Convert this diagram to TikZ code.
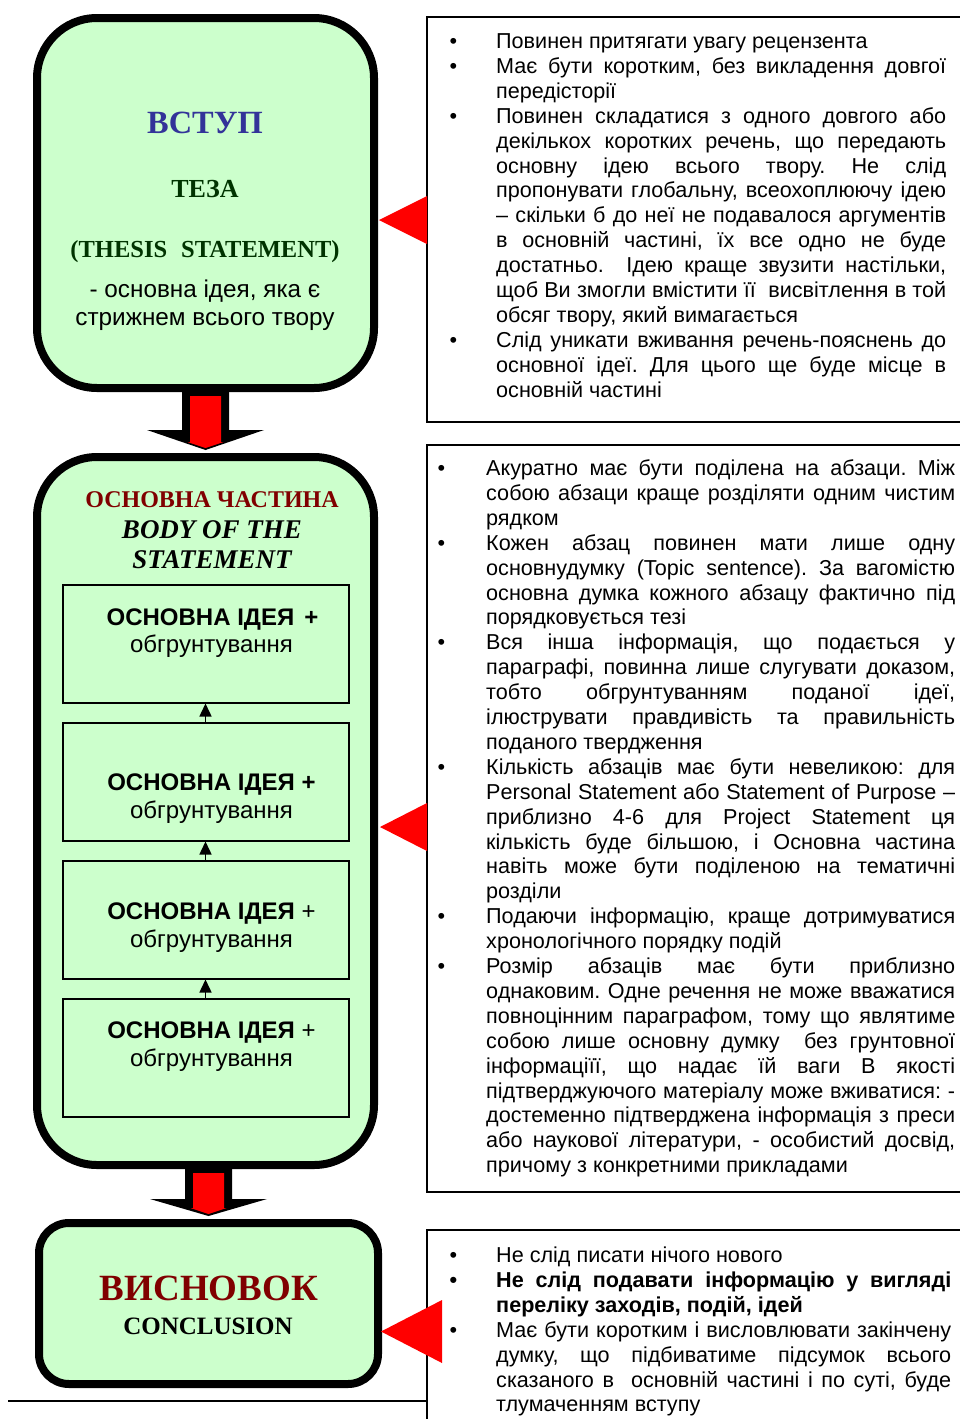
\documentclass[tikz,border=0pt]{standalone}
\usepackage{fontspec}
\setmainfont{Liberation Serif}
\setsansfont{Liberation Sans}
\usetikzlibrary{arrows.meta,calc}
\definecolor{boxgreen}{HTML}{CCFFCC}
\definecolor{introblue}{HTML}{333399}
\definecolor{tezagreen}{HTML}{003300}
\definecolor{darkred}{HTML}{800000}
\newlength\bulsep
\newcommand\jl[1]{\leavevmode\makebox[\linewidth][s]{#1}\\}
\newcommand\bul{\leavevmode\llap{\textbullet\hspace{\bulsep}}}
\newcommand\rtext{\fontsize{21.6}{24.9}\selectfont\sffamily\frenchspacing}
\newcommand\idfont{\fontsize{24}{27}\selectfont\sffamily}
\newcommand\blockarrow[3]{%
  \fill[black] ($(#1)+(-23.5,0)$) -- ($(#2)+(-23.5,-3-#3)$) -- ($(#2)+(-58.5,-3-#3)$)
    -- ($(#2)+(0,-3)$) -- ($(#2)+(58.5,-3-#3)$) -- ($(#2)+(23.5,-3-#3)$)
    -- ($(#1)+(23.5,0)$) -- cycle;
  \fill[red] ($(#1)+(-15.5,4)$) -- ($(#2)+(-15.5,-11)$) -- ($(#2)+(-18,-11)$)
    -- ($(#2)+(0,-5)$) -- ($(#2)+(18,-11)$) -- ($(#2)+(15.5,-11)$)
    -- ($(#1)+(15.5,4)$) -- cycle;}
\tikzset{
  bigbox/.style={draw=black, line width=8pt, fill=boxgreen, inner sep=0pt},
  ideabox/.style={draw=black, line width=2pt, fill=boxgreen, inner sep=0pt,
    minimum width=286pt, minimum height=118pt},
  notebox/.style={draw=black, line width=1.6pt, inner sep=0pt},
  lbl/.style={inner sep=0pt, anchor=base},
  upar/.style={line width=1.5pt, -{Triangle[width=12pt,length=13pt]}},
  pointer/.style={fill=red}
}
\begin{document}
\begin{tikzpicture}[x=1pt,y=-1pt]
\useasboundingbox (0,0) rectangle (960,1419);
\clip (0,0) rectangle (960,1419);
\fill[white] (0,0) rectangle (960,1419);

% ---------- left column boxes ----------
\node[bigbox, rounded corners=60pt, minimum width=337pt, minimum height=370pt] (intro) at (205.5,203) {};
\node[bigbox, rounded corners=60pt, minimum width=337pt, minimum height=708pt] (body) at (205.5,811) {};
\node[bigbox, rounded corners=30pt, minimum width=339pt, minimum height=161pt] (concl) at (208.5,1303.5) {};

% intro texts
\node[lbl, text=introblue, font=\fontsize{32.4}{36}\selectfont\bfseries] (tvstup) at (205,133) {ВСТУП};
\node[lbl, text=tezagreen, font=\fontsize{26}{30}\selectfont\bfseries] (tteza) at (205,197) {ТЕЗА};
\node[lbl, text=tezagreen, font=\fontsize{24.5}{28}\selectfont\bfseries] (tthesis) at (205,257) {(THESIS\hspace{14pt}STATEMENT)};
\node[lbl, font=\fontsize{24.3}{29}\selectfont\sffamily] (tidea1) at (205,297) {- основна ідея, яка є};
\node[lbl, font=\fontsize{24.3}{29}\selectfont\sffamily] (tidea2) at (205,325) {стрижнем всього твору};

% body texts
\node[lbl, text=darkred, font=\fontsize{24}{29}\selectfont\bfseries] (tbody1) at (212,507) {ОСНОВНА ЧАСТИНА};
\node[lbl, font=\fontsize{27}{30}\selectfont\bfseries\itshape] (tbody2) at (212,538) {BODY OF THE};
\node[lbl, font=\fontsize{27}{30}\selectfont\bfseries\itshape] (tbody3) at (212,568) {STATEMENT};

% idea boxes
\node[ideabox] (r1) at (205.5,643.5) {};
\node[ideabox] (r2) at (205.5,781.5) {};
\node[ideabox] (r3) at (205.5,919.5) {};
\node[ideabox] (r4) at (205.5,1057.5) {};
\draw[upar] (r2.north) -- (r1.south);
\draw[upar] (r3.north) -- (r2.south);
\draw[upar] (r4.north) -- (r3.south);

\node[lbl, font=\idfont\bfseries] (i1a) at (212.5,625) {ОСНОВНА ІДЕЯ\hspace{10pt}+};
\node[lbl, font=\idfont] (i1b) at (211.5,652) {обгрунтування};
\node[lbl, font=\idfont\bfseries] (i2a) at (211.5,790) {ОСНОВНА ІДЕЯ +};
\node[lbl, font=\idfont] (i2b) at (211.5,818) {обгрунтування};
\node[lbl, font=\idfont] (i3a) at (211.5,919) {{\bfseries ОСНОВНА ІДЕЯ} +};
\node[lbl, font=\idfont] (i3b) at (211.5,947) {обгрунтування};
\node[lbl, font=\idfont] (i4a) at (211.5,1038) {{\bfseries ОСНОВНА ІДЕЯ} +};
\node[lbl, font=\idfont] (i4b) at (211.5,1066) {обгрунтування};

% conclusion texts
\node[lbl, text=darkred, font=\fontsize{37}{42}\selectfont\bfseries] (tconcl1) at (209,1300) {ВИСНОВОК};
\node[lbl, font=\fontsize{25}{30}\selectfont\bfseries] (tconcl2) at (208,1334) {CONCLUSION};

% block arrows
\blockarrow{intro.south -| body.north}{body.north}{20}
\blockarrow{body.south -| concl.north}{concl.north}{17}

% ---------- right column note boxes ----------
\node[notebox, minimum width=548pt, minimum height=405pt] (n1) at (701,219.5) {};
\node[notebox, minimum width=548pt, minimum height=747pt] (n2) at (701,818.5) {};
\node[notebox, minimum width=548pt, minimum height=240pt] (n3) at (701,1350) {};

\node[anchor=base west, inner sep=0pt, font=\rtext] (txt1) at (496,48.5) {\parbox[t]{450pt}{\setlength\bulsep{39pt}%
\bul Повинен притягати увагу рецензента\\
\jl{\bul Має бути коротким, без викладення довгої}
передісторії\\
\jl{\bul Повинен складатися з одного довгого або}
\jl{декількох коротких речень, що передають}
\jl{основну ідею всього твору. Не слід}
\jl{пропонувати глобальну, всеохоплюючу ідею}
\jl{– скільки б до неї не подавалося аргументів}
\jl{в основній частині, їх все одно не буде}
\jl{достатньо.\ \ Ідею краще звузити настільки,}
\jl{щоб Ви змогли вмістити її\ \ висвітлення в той}
обсяг твору, який вимагається\\
\jl{\bul Слід уникати вживання речень-пояснень до}
\jl{основної ідеї. Для цього ще буде місце в}
основній частині}};

\node[anchor=base west, inner sep=0pt, font=\rtext] (txt2) at (486,475.5) {\parbox[t]{469pt}{\setlength\bulsep{41pt}%
\jl{\bul Акуратно має бути поділена на абзаци. Між}
\jl{собою абзаци краще розділяти одним чистим}
рядком\\
\jl{\bul Кожен абзац повинен мати лише одну}
\jl{основнудумку (Topic sentence). За вагомістю}
\jl{основна думка кожного абзацу фактично під}
порядковується тезі\\
\jl{\bul Вся інша інформація, що подається у}
\jl{параграфі, повинна лише слугувати доказом,}
\jl{тобто обгрунтуванням поданої ідеї,}
\jl{ілюструвати правдивість та правильність}
поданого твердження\\
\jl{\bul Кількість абзаців має бути невеликою: для}
\jl{Personal Statement або Statement of Purpose –}
\jl{приблизно 4-6 для Project Statement ця}
\jl{кількість буде більшою, і Основна частина}
\jl{навіть може бути поділеною на тематичні}
розділи\\
\jl{\bul Подаючи інформацію, краще дотримуватися}
хронологічного порядку подій\\
\jl{\bul Розмір абзаців має бути приблизно}
\jl{однаковим. Одне речення не може вважатися}
\jl{повноцінним параграфом, тому що являтиме}
\jl{собою лише основну думку\ \ без грунтовної}
\jl{інформаціїї, що надає їй ваги В якості}
\jl{підтверджуючого матеріалу може вживатися: -}
\jl{достеменно підтверджена інформація з преси}
\jl{або наукової літератури, - особистий досвід,}
причому з конкретними прикладами}};

\node[anchor=base west, inner sep=0pt, font=\rtext] (txt3) at (496,1262.5) {\parbox[t]{455pt}{\setlength\bulsep{39pt}%
\bul Не слід писати нічого нового\\
\jl{\bfseries\bul Не слід подавати інформацію у вигляді}
{\bfseries переліку заходів, подій, ідей}\\
\jl{\bul Має бути коротким і висловлювати закінчену}
\jl{думку, що підбиватиме підсумок всього}
\jl{сказаного в\ \ основній частині і по суті, буде}
тлумаченням вступу}};

% red pointers
\coordinate (p1) at (427,220);
\coordinate (p2) at (427,827);
\coordinate (p3) at (442,1331.5);
\fill[pointer] ($(p1)+(-48,0)$) -- ($(p1)+(0,-24)$) -- ($(p1)+(0,24)$) -- cycle;
\fill[pointer] ($(p2)+(-47,0)$) -- ($(p2)+(0,-24)$) -- ($(p2)+(0,24)$) -- cycle;
\fill[pointer] ($(p3)+(-61,0)$) -- ($(p3)+(0,-31.5)$) -- ($(p3)+(0,31.5)$) -- cycle;

% bottom rule
\coordinate (bl) at (8,1401);
\draw[line width=1.6pt] (bl) -- (bl -| n3.west);
\end{tikzpicture}
\end{document}
